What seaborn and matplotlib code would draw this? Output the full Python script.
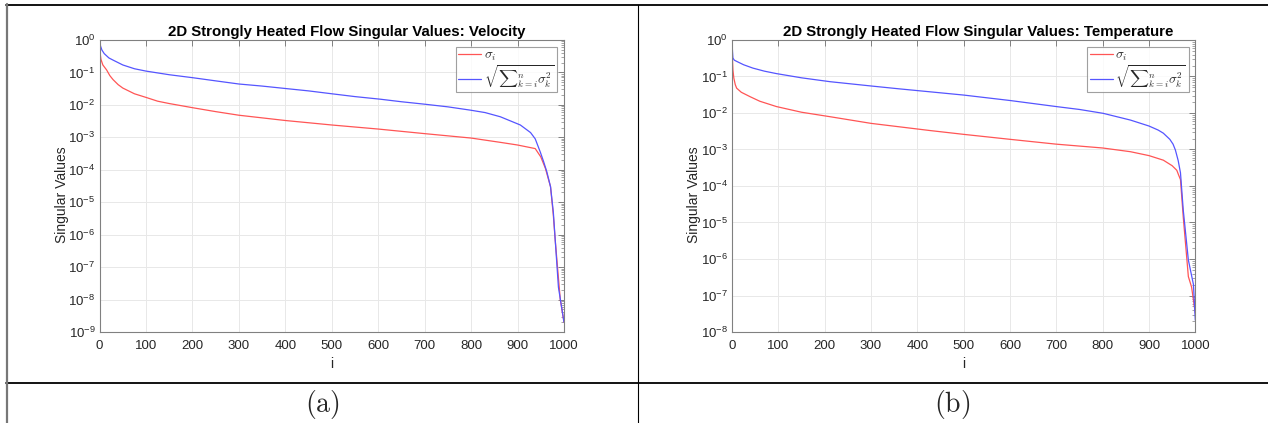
import numpy as np
import pandas as pd
import matplotlib
matplotlib.use("Agg")
import matplotlib.pyplot as plt
import seaborn as sns
from matplotlib.ticker import LogLocator, FixedLocator, NullFormatter

sns.set_style("white")
plt.rcParams['font.family'] = ['Liberation Sans', 'DejaVu Sans']
plt.rcParams['mathtext.fontset'] = 'cm'

# ---------------- data ----------------
vel_sigma_i = [0, 1, 3, 7, 15, 22, 29, 40, 50, 75, 100, 125, 150, 200, 250, 300, 400, 500,
               600, 700, 800, 863, 900, 938, 950, 960, 971, 977, 981, 992, 1000]
vel_sigma_v = [0.8, 0.4, 0.25, 0.17, 0.12, 0.08, 0.06, 0.042, 0.033, 0.022, 0.017, 0.013,
               0.011, 0.0082, 0.0062, 0.0048, 0.0033, 0.0024, 0.0018, 0.0013, 0.00095,
               0.0007, 0.00058, 0.00045, 0.00025, 0.00011, 3e-5, 4e-6, 7e-7, 1e-8, 2e-9]
vel_tail_i = [0, 2, 5, 10, 20, 29, 50, 75, 100, 150, 200, 250, 300, 350, 400, 450, 500, 550,
              604, 650, 700, 750, 798, 830, 863, 906, 928, 938, 949, 956, 963, 971, 977,
              988, 1000]
vel_tail_v = [1.0, 0.65, 0.49, 0.38, 0.28, 0.24, 0.17, 0.13, 0.11, 0.085, 0.069, 0.055,
              0.044, 0.038, 0.032, 0.027, 0.022, 0.018, 0.015, 0.0125, 0.0105, 0.0087,
              0.0069, 0.0058, 0.0043, 0.0024, 0.0014, 0.0009, 0.00035, 0.00018, 8.7e-5,
              3e-5, 5e-6, 2.4e-8, 2e-9]

tmp_sigma_i = [0, 1, 2, 4, 7, 10, 20, 39, 60, 96, 150, 212, 300, 428, 500, 600, 700, 800,
               860, 900, 931, 950, 960, 964, 968, 974, 985, 992, 1000]
tmp_sigma_v = [0.43, 0.3, 0.15, 0.09, 0.06, 0.048, 0.037, 0.028, 0.021, 0.015, 0.0105,
               0.0079, 0.0052, 0.0033, 0.0026, 0.0019, 0.0014, 0.0011, 0.00087, 0.00068,
               0.00051, 0.00036, 0.00027, 0.0002, 0.00015, 1.4e-5, 3.3e-7, 1.7e-7, 3.3e-8]
tmp_tail_i = [0, 1, 2, 5, 10, 25, 45, 70, 96, 150, 212, 300, 360, 428, 500, 600, 700, 750,
              801, 860, 900, 920, 931, 945, 952, 957, 963, 968, 974, 985, 996, 1000]
tmp_tail_v = [1.0, 0.5, 0.32, 0.28, 0.26, 0.21, 0.17, 0.14, 0.12, 0.092, 0.072, 0.055,
              0.046, 0.038, 0.031, 0.022, 0.015, 0.0125, 0.0098, 0.0064, 0.0044, 0.0034,
              0.0028, 0.0019, 0.0014, 0.00097, 0.0005, 0.00023, 2.2e-5, 9.4e-7, 2e-7, 2.1e-8]

titles = ["2D Strongly Heated Flow Singular Values: Velocity",
          "2D Strongly Heated Flow Singular Values: Temperature"]
captions = ["(a)", "(b)"]
ylims = [(1e-9, 1.0), (1e-8, 1.0)]
xticks = [0, 100, 200, 300, 400, 500, 600, 700, 800, 900, 1000]
label_sigma = r'$\sigma_i$'
label_tail = r'$\sqrt{{\sum}_{k=i}^{n}\sigma_k^2}$'

panels = [
    (vel_sigma_i, vel_sigma_v, vel_tail_i, vel_tail_v),
    (tmp_sigma_i, tmp_sigma_v, tmp_tail_i, tmp_tail_v),
]

W, H = 1268, 423
fig = plt.figure(figsize=(W / 100, H / 100), dpi=100)

ax_rects = [(99.6, 564.0), (732.0, 1195.3)]
top_px, bot_px = 40, 332
axis_color = '#808080'

for k, (si, sv, ti, tv) in enumerate(panels):
    l, r = ax_rects[k]
    ax = fig.add_axes([l / W, 1 - bot_px / H, (r - l) / W, (bot_px - top_px) / H])
    df1 = pd.DataFrame({'i': si, 'v': sv})
    df2 = pd.DataFrame({'i': ti, 'v': tv})
    sns.lineplot(data=df1, x='i', y='v', ax=ax, color='#ff5555', lw=0.9,
                 label=label_sigma, estimator=None, sort=True)
    sns.lineplot(data=df2, x='i', y='v', ax=ax, color='#5555ff', lw=0.9,
                 label=label_tail, estimator=None, sort=True)
    ax.set_yscale('log')
    ax.set_xlim(0, 1000)
    ax.set_ylim(*ylims[k])
    ax.xaxis.set_major_locator(FixedLocator(xticks))
    ax.yaxis.set_major_locator(LogLocator(base=10, numticks=20))
    ax.yaxis.set_minor_locator(LogLocator(base=10, subs=np.arange(2, 10), numticks=20))
    ax.yaxis.set_minor_formatter(NullFormatter())
    ax.grid(True, which='major', color='#e8e8e8', lw=0.7)
    ax.set_axisbelow(True)
    for s in ax.spines.values():
        s.set_visible(True)
        s.set_color(axis_color)
        s.set_linewidth(0.8)
    ax.tick_params(axis='both', which='both', direction='in', colors=axis_color,
                   labelcolor='#262626', labelsize=9.5, top=True, right=True)
    ax.tick_params(axis='both', which='major', length=4, width=0.7)
    ax.tick_params(axis='y', which='minor', length=2, width=0.5)
    ax.tick_params(axis='x', which='major', pad=6)
    ax.tick_params(axis='y', which='major', pad=3)
    ax.set_title(titles[k], fontsize=10.8, fontweight='bold', color='black', pad=3,
                 x=0.5 + 15 / (r - l))
    ax.set_xlabel('i', fontsize=10, color='#262626', labelpad=3)
    ax.set_ylabel('Singular Values', fontsize=10, color='#262626')
    ax.yaxis.set_label_coords(-31 / (r - l), 0.47)
    leg = ax.legend(loc='upper right', fontsize=9.5, frameon=True, fancybox=False,
                    borderpad=0.2, labelspacing=0.0, handlelength=1.75,
                    handletextpad=0.2, borderaxespad=0.5)
    leg.get_frame().set_edgecolor('#888888')
    leg.get_frame().set_linewidth(0.8)

    fig.text((322 if k == 0 else 952) / W, 1 - 404 / H, r'$\mathrm{' + captions[k] + '}$',
             fontsize=20, ha='center', va='center')

# table lines
def hline(y, x0, x1, lw, c):
    fig.add_artist(plt.Line2D([x0 / W, x1 / W], [1 - y / H, 1 - y / H], lw=lw, color=c,
                              transform=fig.transFigure))

def vline(x, y0, y1, lw, c):
    fig.add_artist(plt.Line2D([x / W, x / W], [1 - y0 / H, 1 - y1 / H], lw=lw, color=c,
                              transform=fig.transFigure))

hline(5, 6, 1268, 1.3, 'black')
hline(383, 6, 1268, 1.3, 'black')
vline(7, 4, 423, 1.6, '#777777')
vline(638, 5, 423, 0.8, 'black')

fig.savefig('out.png', dpi=100)
